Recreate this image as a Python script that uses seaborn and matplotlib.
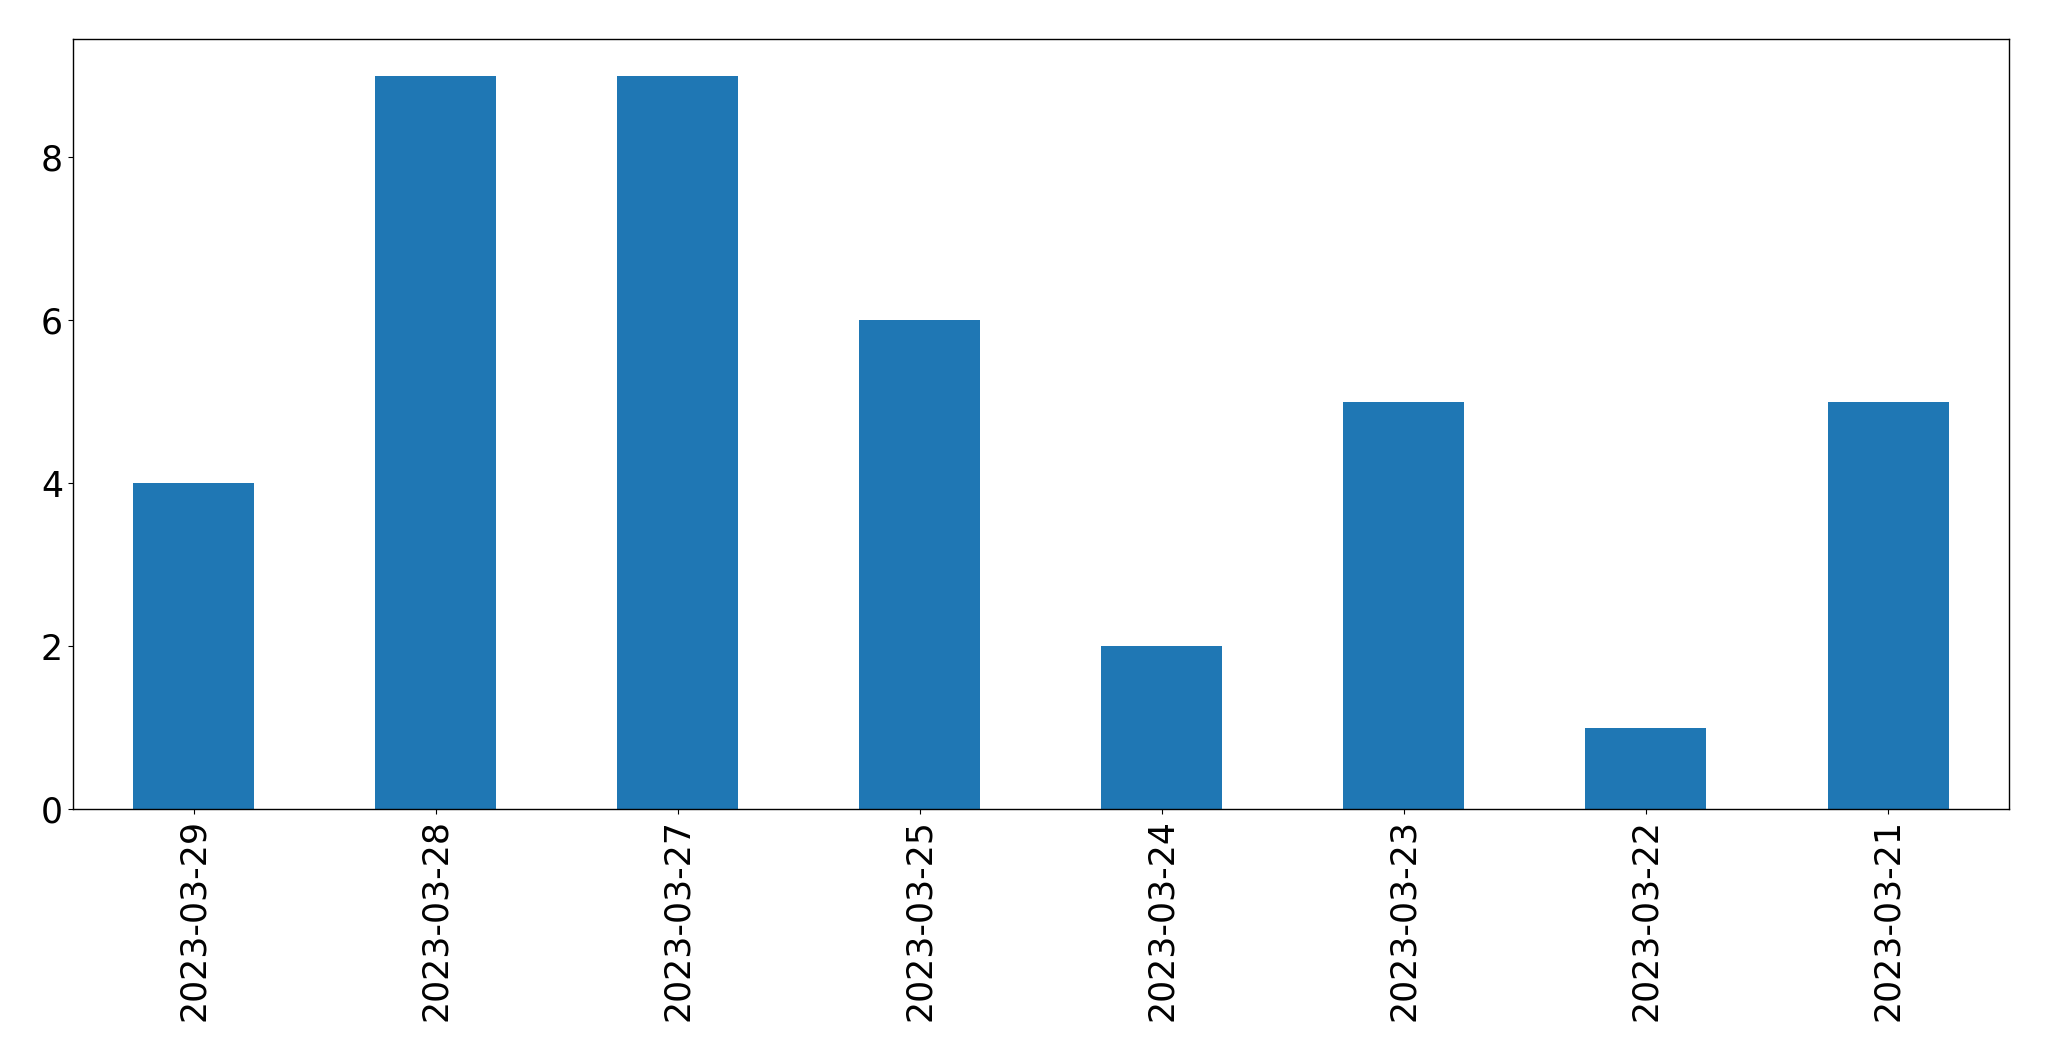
import matplotlib
matplotlib.use("Agg")
import matplotlib.pyplot as plt
import seaborn as sns
import pandas as pd

dates = ["2023-03-29", "2023-03-28", "2023-03-27", "2023-03-25",
         "2023-03-24", "2023-03-23", "2023-03-22", "2023-03-21"]
counts = [4, 9, 9, 6, 2, 5, 1, 5]

df = pd.DataFrame({"date": dates, "count": counts})

plt.rcParams["font.family"] = ["DejaVu Sans"]
fig = plt.figure(figsize=(20.49, 10.61), dpi=100)
ax = fig.add_axes([0.0355, 0.2372, 0.945, 0.7258])
sns.barplot(data=df, x="date", y="count", order=dates, color="#1f77b4",
            saturation=1, width=0.5, ax=ax)
ax.set_xlim(-0.5, len(dates) - 0.5)
ax.set_ylim(0, 9.45)
ax.set_yticks([0, 2, 4, 6, 8])
ax.set_xlabel("")
ax.set_ylabel("")
ax.tick_params(axis="both", labelsize=25)
ax.tick_params(axis="x", labelrotation=90)
for s in ax.spines.values():
    s.set_linewidth(1.0)
fig.savefig("out.png", dpi=100)
